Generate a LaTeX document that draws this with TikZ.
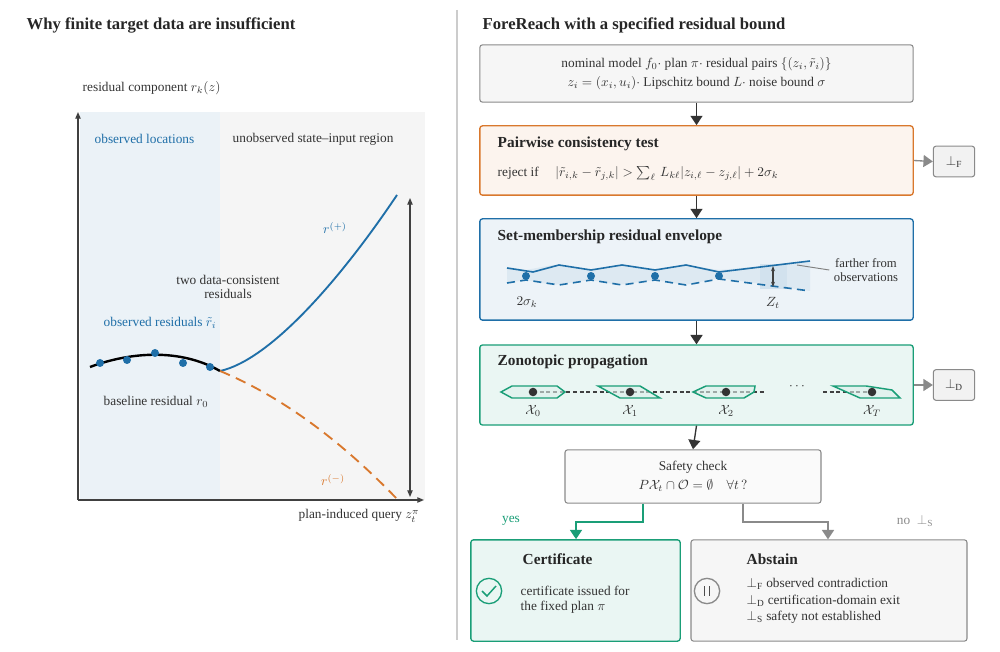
\documentclass[tikz,border=0pt]{standalone}
\usepackage{fontspec}
\setmainfont{Liberation Serif}
\usetikzlibrary{arrows.meta,calc}
\definecolor{cblue}{HTML}{1F6FA8}
\definecolor{corange}{HTML}{D9782D}
\definecolor{cgreen}{HTML}{1A9E77}
\definecolor{cgray}{HTML}{8A8A8A}
\definecolor{tgray}{HTML}{333333}
\begin{document}
\begin{tikzpicture}[x=0.75pt,y=-0.75pt,
  every node/.style={font=\fontsize{10}{12}\selectfont,text=tgray},
  box/.style={draw=cgray,fill=gray!7,rounded corners=2pt,line width=0.8pt},
  ttl/.style={font=\fontsize{11.5}{13}\selectfont\bfseries,anchor=west,text=black!85},
  head/.style={font=\fontsize{12.5}{14}\selectfont\bfseries,anchor=west,text=black!85},
  flow/.style={-{Triangle[length=7pt,width=9pt]},line width=1pt,draw=black!80},
  gflow/.style={-{Triangle[length=7pt,width=9pt]},line width=1pt,draw=cgray},
  sbox/.style={draw=cgray,fill=gray!10,rounded corners=2pt,line width=0.8pt,minimum width=31pt,minimum height=23pt},
  dot/.style={circle,fill=cblue,inner sep=0pt,minimum size=6pt}]
\useasboundingbox (0,0) rectangle (1000,652);
% ---------- left panel
\node[head] (lt) at (22,25) {Why finite target data are insufficient};
\fill[cblue!9] (80,112) rectangle (220,500);
\fill[gray!8] (220,112) rectangle (425,500);
\coordinate (o) at (78,500);
\coordinate (ytop) at (78,112);
\coordinate (xend) at (424,500);
\draw[-{Triangle[length=5pt,width=4pt]},line width=0.9pt,black!75] (o) -- (ytop);
\draw[-{Triangle[length=5pt,width=4pt]},line width=0.9pt,black!75] (o) -- (xend);
\node[anchor=west] (ylab) at (78,88) {residual component $r_k(z)$};
\node[anchor=north east] (xlab) at (424,505) {plan-induced query $z_t^{\pi}$};
\node[anchor=west,text=cblue] (obsl) at (90,139) {observed locations};
\node[anchor=west] (unobs) at (228,139) {unobserved state--input region};
\coordinate (s) at (220,371);
\draw[line width=1.8pt,black] (90,367) .. controls (130,352) and (180,348) .. (s);
\draw[line width=1.4pt,cblue] (s) .. controls (270,360) and (340,280) .. (397,195);
\draw[line width=1.4pt,corange,dash pattern=on 8pt off 5pt] (s) .. controls (290,400) and (350,450) .. (398,500);
\foreach \x/\y in {100/363,127/360,155/353,183/363,210/367} \node[dot] at (\x,\y) {};
\coordinate (at) at (410,198);
\coordinate (ab) at (410,497);
\draw[{Triangle[length=5pt,width=4pt]}-{Triangle[length=5pt,width=4pt]},line width=0.9pt,black!75] (at) -- (ab);
\node[text=cblue] (rp) at (335,228) {$r^{(+)}$};
\node[text=corange] (rm) at (333,480) {$r^{(-)}$};
\node[align=center,font=\fontsize{10}{11}\selectfont] (two) at (228,287) {two data-consistent\\residuals};
\node[anchor=west,text=cblue] (obsr) at (99,323) {observed residuals $\tilde r_i$};
\node[anchor=west] (base) at (99,402) {baseline residual $r_0$};
% divider
\draw[gray!40,line width=0.8pt] (457,10) -- (457,640);
% ---------- right panel
\node[head] (rt) at (478,25) {ForeReach with a specified residual bound};
\node[box,minimum width=325pt,minimum height=43pt,align=center,font=\fontsize{10}{14}\selectfont] (inp) at (696.5,73.5)
 {nominal model $f_0\cdot$ plan $\pi\cdot$ residual pairs $\{(z_i,\tilde r_i)\}$\\ $z_i=(x_i,u_i)\cdot$ Lipschitz bound $L\cdot$ noise bound $\sigma$};
% pairwise
\node[draw=corange,fill=corange!8,rounded corners=2pt,line width=1pt,minimum width=325pt,minimum height=52pt] (pw) at (696.5,160.5) {};
\node[ttl] at (493,144) {Pairwise consistency test};
\node[anchor=west] at (493,174) {reject if \quad $|\tilde r_{i,k}-\tilde r_{j,k}|>\sum_{\ell}\,L_{k\ell}|z_{i,\ell}-z_{j,\ell}|+2\sigma_k$};
\node[sbox] (bf) at (954,161.5) {$\perp_{\mathrm{F}}$};
% envelope
\node[draw=cblue,fill=cblue!8,rounded corners=2pt,line width=1pt,minimum width=325pt,minimum height=76pt] (env) at (696.5,269.5) {};
\node[ttl] at (493,237) {Set-membership residual envelope};
\fill[cblue!15] (507,267) -- (526,270) -- (553,265) -- (591,270) -- (618,265) -- (655,270) -- (685,265) -- (719,270) -- (810,262) -- (810,291) -- (719,278) -- (685,285) -- (655,280) -- (618,285) -- (591,280) -- (553,285) -- (526,280) -- (507,283) -- cycle;
\fill[cblue!20] (760,264) rectangle (787,289);
\draw[cblue,line width=1.2pt] (507,268) -- (533,272) -- (559,265) -- (591,270) -- (622,265) -- (655,270) -- (686,265) -- (719,272) -- (810,261);
\draw[cblue,line width=1.2pt,dash pattern=on 6pt off 4pt] (507,283) -- (526,280) -- (559,285) -- (591,280) -- (622,285) -- (655,280) -- (686,285) -- (719,279) -- (810,291);
\foreach \x in {526,591,655,719} \node[dot] at (\x,276) {};
\coordinate (zt) at (773,266);
\coordinate (zb) at (773,287);
\draw[{Stealth[length=4pt]}-{Stealth[length=4pt]},black!75,line width=0.8pt] (zt) -- (zb);
\node (sig) at (527,302) {$2\sigma_k$};
\node (zl) at (773,303) {$Z_t$};
\node[align=center,font=\fontsize{9.5}{10.5}\selectfont] (far) at (866,270) {farther from\\observations};
\coordinate (fp) at (797,265);
\draw[gray,line width=0.7pt] (fp) -- (far.west);
% zonotopic
\node[draw=cgreen,fill=cgreen!9,rounded corners=2pt,line width=1pt,minimum width=325pt,minimum height=60pt] (zon) at (696.5,385) {};
\node[ttl] at (493,362) {Zonotopic propagation};
\draw[black!75,dash pattern=on 3pt off 2pt,line width=0.8pt] (533,392) -- (765,392);
\draw[black!75,dash pattern=on 3pt off 2pt,line width=0.8pt] (823,392) -- (872,392);
\node (dots) at (797,387) {$\cdots$};
\tikzset{zono/.style={draw=cgreen,fill=cgreen!15,fill opacity=0.6,line width=1.1pt}}
\draw[zono] (501,392) -- (512,386) -- (557,386) -- (565,392) -- (557,398) -- (512,398) -- cycle;
\draw[zono] (598,386) -- (640,386) -- (660,398) -- (620,398) -- cycle;
\draw[zono] (693,392) -- (706,386) -- (755,386) -- (754,392) -- (744,398) -- (706,398) -- cycle;
\draw[zono] (833,386) -- (866,386) -- (892,390) -- (900,398) -- (860,398) -- cycle;
\foreach \x in {533,630,726,872} \fill[black!80] (\x,392) circle (3.2pt);
\node (x0) at (533,411) {$\mathcal{X}_0$};
\node (x1) at (630,411) {$\mathcal{X}_1$};
\node (x2) at (726,411) {$\mathcal{X}_2$};
\node (xT) at (872,411) {$\mathcal{X}_T$};
\node[sbox] (bd) at (954,385) {$\perp_{\mathrm{D}}$};
% safety
\node[box,fill=white!96!gray,minimum width=192pt,minimum height=40pt,align=center,font=\fontsize{10}{14}\selectfont] (saf) at (693,476.5)
 {Safety check\\ $P\mathcal{X}_t\cap\mathcal{O}=\emptyset\quad\forall t\,?$};
% outputs
\node[draw=cgreen,fill=cgreen!9,rounded corners=2pt,line width=1pt,minimum width=157pt,minimum height=76pt] (cert) at (575.5,590.5) {};
\node[ttl] at (518,559) {Certificate};
\node[draw=cgreen,circle,line width=1pt,minimum size=19pt,inner sep=0pt] (chk) at (489,591) {};
\draw[cgreen,line width=1.1pt] (482,591) -- (487,596) -- (496,586);
\node[anchor=west,align=left,font=\fontsize{10}{11.5}\selectfont] at (516,600) {certificate issued for\\the fixed plan $\pi$};
\node[box,minimum width=207pt,minimum height=76pt] (abs) at (829,590.5) {};
\node[ttl] at (742,559) {Abstain};
\node[draw=cgray,circle,line width=1pt,minimum size=19pt,inner sep=0pt] (pau) at (707,591) {};
\draw[black!70,line width=1.4pt] (704.5,586) -- (704.5,596) (709.5,586) -- (709.5,596);
\node[anchor=west,align=left,font=\fontsize{10}{12.5}\selectfont] at (742,601) {$\perp_{\mathrm{F}}$ observed contradiction\\$\perp_{\mathrm{D}}$ certification-domain exit\\$\perp_{\mathrm{S}}$ safety not established};
% arrows
\draw[flow] (inp.south) -- (pw.north);
\draw[flow] (pw.south) -- (env.north);
\draw[flow] (env.south) -- (zon.north);
\draw[flow] (zon.south) -- (saf.north);
\draw[gflow] (pw.east) -- (bf.west);
\draw[gflow] (zon.east) -- (bd.west);
\coordinate (ysx) at (643,0);
\coordinate (nsx) at (743,0);
\coordinate (yc) at (576,522);
\coordinate (nc) at (828,522);
\draw[-{Triangle[length=7pt,width=9pt]},line width=1.2pt,cgreen] (saf.south -| ysx) |- (yc) -- (yc |- cert.north);
\draw[gflow,line width=1.2pt] (saf.south -| nsx) |- (nc) -- (nc |- abs.north);
\node[text=cgreen] (yes) at (511,521) {yes};
\node[text=cgray] (no) at (915,521) {no \ $\perp_{\mathrm{S}}$};
\end{tikzpicture}
\end{document}
